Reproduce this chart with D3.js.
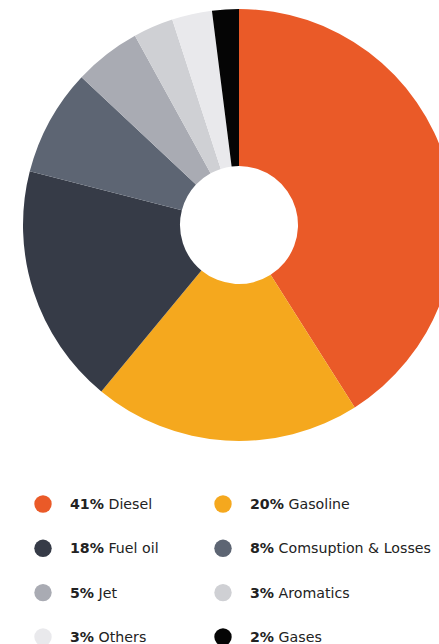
<!DOCTYPE html>
<html><head><meta charset="utf-8">
<script src="https://cdn.jsdelivr.net/npm/d3@7"></script>
<style>html,body{margin:0;padding:0;background:#fff;overflow:hidden}</style>
</head><body>
<svg id="c" width="439" height="644"></svg>
<script>
const categories = ["Diesel","Gasoline","Fuel oil","Comsuption & Losses","Jet","Aromatics","Others","Gases"];
const values = [41,20,18,8,5,3,3,2];
const colors = ["#EA5A28","#F5A81E","#363B47","#5D6573","#A9ABB3","#CFD0D4","#E9E9EC","#050505"];

const svg = d3.select("#c");
const cx = 239, cy = 225, R = 216, r0 = 59;
const pie = d3.pie().sort(null).value(d => d.v);
const data = categories.map((c,i)=>({c, v: values[i], col: colors[i]}));
const arc = d3.arc().innerRadius(r0).outerRadius(R);
svg.append("g").attr("transform",`translate(${cx},${cy})`)
  .selectAll("path").data(pie(data)).join("path")
  .attr("d", arc).attr("fill", d => d.data.col);

const colX = [43, 223], rowY = [504, 548.3, 592.6, 637];
const lg = svg.append("g");
data.forEach((d,i)=>{
  const x = colX[i%2], y = rowY[Math.floor(i/2)];
  lg.append("circle").attr("cx",x).attr("cy",y).attr("r",8.7).attr("fill",d.col);
  const t = lg.append("text").attr("x",x+27).attr("y",y).attr("dy","0.36em")
    .attr("font-family","'DejaVu Sans', sans-serif").attr("font-size",14.2).attr("fill","#222");
  t.append("tspan").attr("font-weight",700).text(d.v+"%");
  t.append("tspan").text(" "+d.c);
});
</script>
</body></html>
